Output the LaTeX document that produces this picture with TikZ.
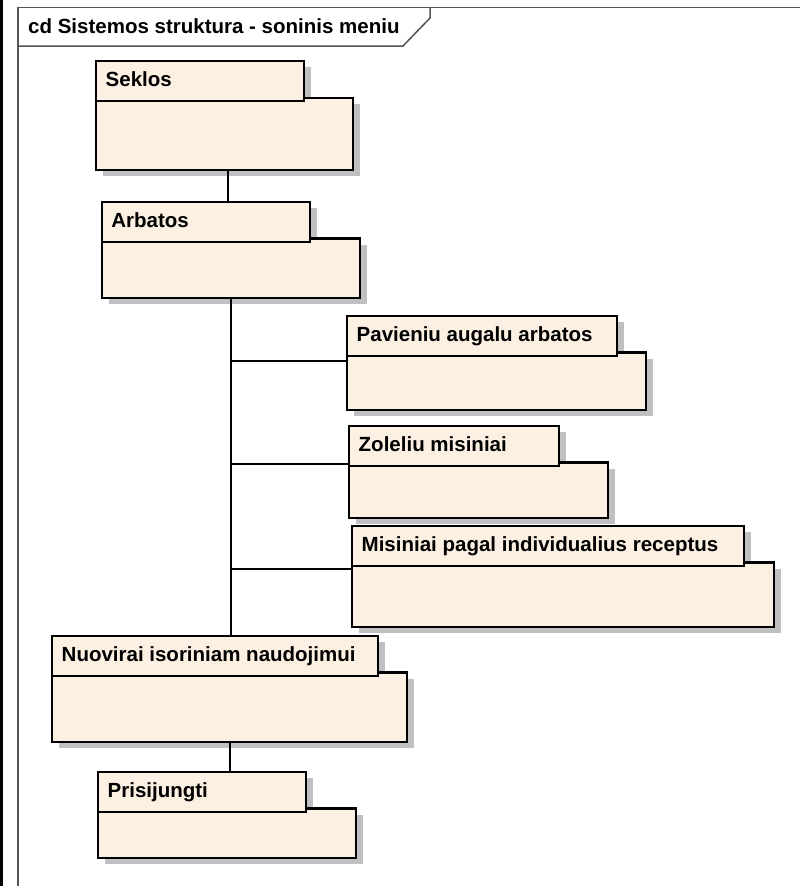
\documentclass[tikz,border=0pt]{standalone}
\usepackage{fontspec}
\setmainfont{Liberation Sans}
\usetikzlibrary{backgrounds}

\definecolor{classfill}{HTML}{FBF0E2}
\definecolor{shadowgray}{HTML}{C0C0C0}
\definecolor{framegray}{HTML}{555555}

\tikzset{
  classbox/.style={draw=black, line width=2.2pt, fill=classfill, rectangle,
    inner sep=0pt, outer sep=0pt, anchor=north west},
  classname/.style={anchor=base west, inner sep=0pt,
    font=\fontsize{20.5}{24}\selectfont\bfseries},
  link/.style={draw=black, line width=2pt},
  framelines/.style={draw=framegray, line width=1.5pt},
  castshadow/.style={fill=shadowgray},
}

% #1 name, #2 left, #3 top, #4 tab right, #5 body right, #6 bottom, #7 text
\newcommand\umlclass[7]{%
  \node[classbox, minimum width={(#5-#2)*1pt}, minimum height={(#6-#3-36.5)*1pt}]
    (#1B) at (#2,#3+36.5) {};
  \node[classbox, minimum width={(#4-#2)*1pt}, minimum height=40pt]
    (#1T) at (#2,#3) {};
  \node[classname] (#1L) at (#2+9.5,#3+25.5) {#7};
  \begin{pgfonlayer}{background}
    \fill[castshadow] ([shift={(7,6)}]#1T.north west) rectangle ([shift={(7,6)}]#1T.south east);
    \fill[castshadow] ([shift={(7,6)}]#1B.north west) rectangle ([shift={(7,6)}]#1B.south east);
  \end{pgfonlayer}%
}

\begin{document}
\begin{tikzpicture}[x=1pt, y=-1pt]
  \useasboundingbox (0,0) rectangle (800,886);
  \begin{pgfonlayer}{background}
    \fill[white] (0,0) rectangle (800,886);
  \end{pgfonlayer}

  % page edge
  \fill[black] (0,0) rectangle (2.5,886);

  % diagram frame with its name tab
  \draw[framelines] (18,890) -- (18,7.5) -- (805,7.5);
  \draw[framelines] (18,46) -- (403,46) -- (430,18) -- (430,7.5);
  \node[classname] (title) at (28,33.5) {cd Sistemos struktura - soninis meniu};

  % classes
  \umlclass{sek}{96}{61.3}{304}{353}{170}{Seklos}
  \umlclass{arb}{101.7}{202}{310}{360}{298}{Arbatos}
  \umlclass{pav}{347}{316}{617}{646}{410}{Pavieniu augalu arbatos}
  \umlclass{zol}{349}{426}{559}{608}{518}{Zoleliu misiniai}
  \umlclass{mis}{352}{526}{744}{774}{627}{Misiniai pagal individualius receptus}
  \umlclass{nuo}{52}{636}{378}{407}{742}{Nuovirai isoriniam naudojimui}
  \umlclass{pri}{98}{772}{306}{356}{858}{Prisijungti}

  % connectors
  \coordinate (stem) at (228,0);
  \draw[link] (sekB.south -| stem) -- (arbT.north -| stem);
  \draw[link] (arbB.south) -- (arbB.south |- nuoT.north);
  \coordinate (pavJ) at ([yshift=-8pt]pavB.north west);
  \coordinate (zolJ) at ([yshift=-1pt]zolB.north west);
  \coordinate (misJ) at ([yshift=-6pt]misB.north west);
  \draw[link] (pavJ) -- (pavJ -| arbB.south);
  \draw[link] (zolJ) -- (zolJ -| arbB.south);
  \draw[link] (misJ) -- (misJ -| arbB.south);
  \draw[link] (nuoB.south) -- (nuoB.south |- priT.north);
\end{tikzpicture}
\end{document}
